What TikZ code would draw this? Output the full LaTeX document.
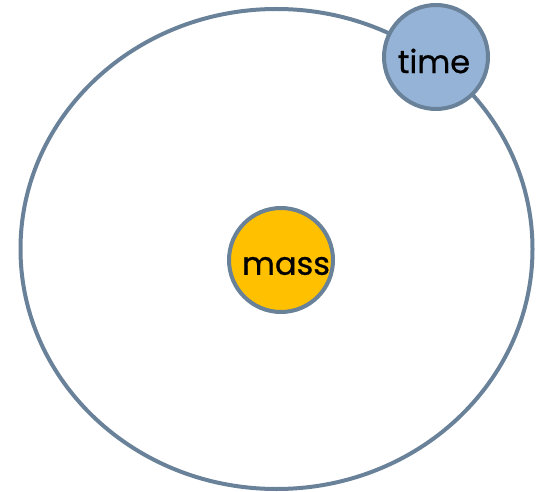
\documentclass[tikz,border=0pt]{standalone}
\usepackage{fontspec}
\setmainfont{Poppins}
\newfontfamily\lblfont[FakeBold=0.8]{Poppins}
\usetikzlibrary{shapes.geometric}
\definecolor{edge}{HTML}{6A8299}
\definecolor{massfill}{HTML}{FFC000}
\definecolor{timefill}{HTML}{95B3D7}
\begin{document}
\begin{tikzpicture}[x=1pt,y=-1pt,
  ball/.style={circle,draw=edge,line width=4pt,inner sep=0pt,minimum size=104pt},
  lbl/.style={font=\lblfont\fontsize{32}{32}\selectfont,inner sep=0pt}]
\useasboundingbox (0,0) rectangle (536,492);
\node[ellipse,draw=edge,line width=4pt,minimum width=512pt,minimum height=480pt,inner sep=0pt] (orbit) at (276.5,249) {};
\node[ball,fill=massfill] (mass) at (281,260) {};
\node[lbl] (masst) at (286,266) {mass};
\node[ball,fill=timefill] (time) at (436,57) {};
\node[lbl] (timet) at (434,61) {time};
\end{tikzpicture}
\end{document}
